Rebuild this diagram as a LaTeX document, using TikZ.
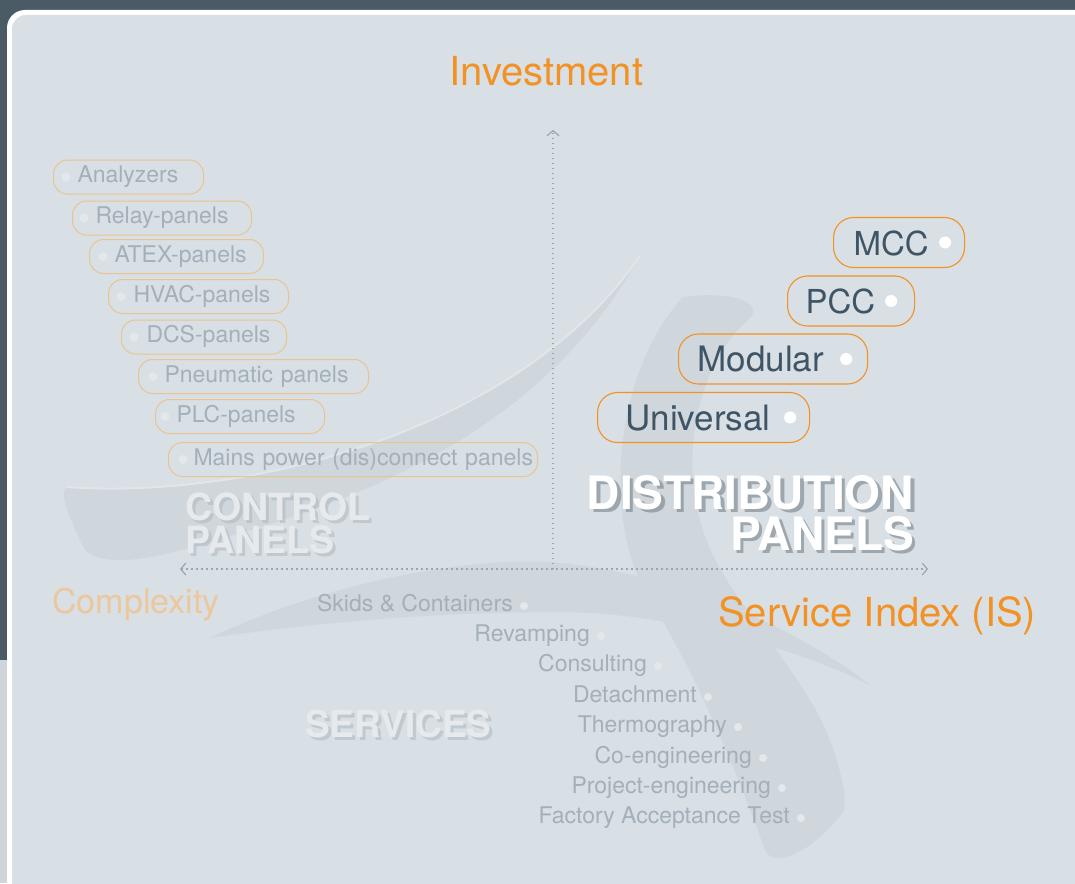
\documentclass[tikz,border=0pt]{standalone}
\usepackage{fontspec}
\setmainfont{TeX Gyre Heros}
\usepackage{tikz}
\usetikzlibrary{arrows.meta,positioning,calc}
\definecolor{slate}{HTML}{4A5B66}
\definecolor{panel}{HTML}{D8DFE5}
\definecolor{swirl}{HTML}{CFD6DC}
\definecolor{swirlline}{HTML}{E0E6EA}
\definecolor{edgegrey}{HTML}{CFD6DB}
\definecolor{orange}{HTML}{F39224}
\definecolor{paleorange}{HTML}{EAC490}
\definecolor{palelabel}{HTML}{ECC79C}
\definecolor{itemgrey}{HTML}{A4B0B9}
\definecolor{dotgrey}{HTML}{E3E8EC}
\definecolor{darktext}{HTML}{3F5565}
\definecolor{axisgrey}{HTML}{9AA6AF}
\definecolor{titlegrey}{HTML}{E6EAED}
\definecolor{shadowgrey}{HTML}{B2BBC2}
\definecolor{darkshadow}{HTML}{6F7A82}
\tikzset{
    lbox/.style ={draw=paleorange, line width=1pt, rounded corners=14pt, minimum height=34pt,
        inner xsep=0pt, inner ysep=0pt, anchor=west, align=left, text=itemgrey,
        font=\fontsize{23}{26}\selectfont, text height=16.5pt, text depth=5pt, text width=#1},
    rbox/.style ={draw=orange, line width=1.1pt, rounded corners=20pt, minimum height=50pt,
        inner xsep=0pt, inner ysep=0pt, anchor=west, align=left, text=darktext,
        font=\fontsize{35}{40}\selectfont, text height=25pt, text depth=0pt, text width=#1},
    sitem/.style ={anchor=east, inner sep=0pt, text=itemgrey,
        font=\fontsize{23}{26}\selectfont, text height=16.5pt, text depth=5pt},
    ldot/.style = {fill=dotgrey},
    rdot/.style = {fill=white},
    axis/.style = {draw=axisgrey, line width=1.3pt, dash pattern=on 1.3pt off 3.7pt},
    chev/.tip = {Straight Barb[length=5pt, width=12pt, line width=1.2pt]},
    axislabel/.style = {inner sep=0pt, text=orange, font=\fontsize{40}{44}\selectfont},
    title/.style = {inner sep=0pt, font=\fontsize{37.5}{33}\selectfont\bfseries},
    bigtitle/.style = {inner sep=0pt, anchor=base east, align=right, font=\fontsize{46}{41}\selectfont\bfseries}
}

\begin{document}
\begin{tikzpicture}[x=1pt, y=-1pt]
    \useasboundingbox (0,0) rectangle (1075,883);

    % Background and panel
    \fill[slate] (0,0) rectangle (1075,883);
    \fill[edgegrey] (0,660) rectangle (8,883);
    \fill[white, rounded corners=18pt] (7,10) rectangle (1100,910);
    \fill[panel, rounded corners=14pt] (12,15) rectangle (1100,910);

    % Swirls
    \fill[swirl] (67,487) .. controls (250,500) and (520,430) .. (640,256)
        .. controls (560,400) and (420,480) .. (250,530)
        .. controls (170,555) and (110,572) .. (85,550)
        .. controls (70,520) and (58,492) .. (67,487) -- cycle;
    \draw[swirlline, line width=2pt] (67,487) .. controls (250,500) and (520,430) .. (640,256);
    \fill[swirl] (683,297) .. controls (615,370) and (600,520) .. (650,600)
        .. controls (700,680) and (740,780) .. (765,850)
        .. controls (772,866) and (805,860) .. (843,812)
        .. controls (850,800) and (835,740) .. (810,700)
        .. controls (760,620) and (715,580) .. (700,520)
        .. controls (680,450) and (700,360) .. (750,318)
        .. controls (762,305) and (740,290) .. (683,297) -- cycle;
    \fill[swirl] (210,638) .. controls (330,580) and (480,555) .. (560,563)
        .. controls (680,575) and (800,630) .. (870,685)
        .. controls (780,640) and (650,612) .. (560,612)
        .. controls (420,612) and (300,625) .. (210,638) -- cycle;

    % Axes
    \coordinate (origin) at (553,569);
    \coordinate (ytip) at (553,130);
    \coordinate (xleft) at (180,569);
    \coordinate (xright) at (928,569);
    \draw[axis, -chev] (origin) -- (ytip);
    \draw[axis, chev-chev] (xleft) -- (xright);

    \node[axislabel, anchor=base west] (invest) at (449,85) {Investment};
    \node[axislabel, anchor=base west, text=palelabel, font=\fontsize{34}{40}\selectfont] (cplx) at (52,613) {Complexity};
    \node[axislabel, anchor=base west] (sindex) at (718,626) {Service Index (IS)};

    % Control panels
    \node[lbox=150pt] (analyzers) at (53,177) {\hspace*{24pt}Analyzers};
    \node[lbox=179pt] (relay) at (72,218) {\hspace*{23pt}Relay-panels};
    \node[lbox=174pt] (atex) at (89,256.5) {\hspace*{25pt}ATEX-panels};
    \node[lbox=180pt] (hvac) at (108,296.5) {\hspace*{25pt}HVAC-panels};
    \node[lbox=165pt] (dcs) at (121,337) {\hspace*{25pt}DCS-panels};
    \node[lbox=230pt] (pneu) at (138,376.5) {\hspace*{26pt}Pneumatic panels};
    \node[lbox=169pt] (plc) at (155,416.5) {\hspace*{21pt}PLC-panels};
    \node[lbox=369pt] (mains) at (168,459.5) {\hspace*{25pt}Mains power (dis)connect panels};
    \fill[ldot] ([xshift=13pt]analyzers.west) circle (4.5pt);
    \fill[ldot] ([xshift=12pt]relay.west) circle (4.5pt);
    \fill[ldot] ([xshift=14pt]atex.west) circle (4.5pt);
    \fill[ldot] ([xshift=13pt]hvac.west) circle (4.5pt);
    \fill[ldot] ([xshift=13pt]dcs.west) circle (4.5pt);
    \fill[ldot] ([xshift=15pt]pneu.west) circle (4.5pt);
    \fill[ldot] ([xshift=10pt]plc.west) circle (4.5pt);
    \fill[ldot] ([xshift=15pt]mains.west) circle (4.5pt);

    \node[title, text=shadowgrey, opacity=.6, anchor=base west, align=left] (ctrlsh) at (188,556) {CONTROL\\PANELS};
    \node[title, text=titlegrey, anchor=base west, align=left] (ctrl) at (185,553) {CONTROL\\PANELS};

    % Distribution panels
    \node[rbox=131pt, font=\fontsize{33}{40}\selectfont] (mcc) at (833,242.5) {\hspace*{20pt}MCC};
    \node[rbox=127pt, font=\fontsize{33}{40}\selectfont] (pcc) at (787,301) {\hspace*{18pt}PCC};
    \node[rbox=189pt] (modular) at (678,359) {\hspace*{19pt}Modular};
    \node[rbox=212pt] (universal) at (597,417.5) {\hspace*{28pt}Universal};
    \fill[rdot] ([xshift=-20pt]mcc.east) circle (6pt);
    \fill[rdot] ([xshift=-24pt]pcc.east) circle (6pt);
    \fill[rdot] ([xshift=-22pt]modular.east) circle (6pt);
    \fill[rdot] ([xshift=-20pt]universal.east) circle (6pt);

    \node[bigtitle, text=darkshadow, opacity=.55] (distsh) at (917.5,553.5) {DISTRIBUTION\\PANELS};
    \node[bigtitle, text=white] (dist) at (914,550) {DISTRIBUTION\\PANELS};

    % Services
    \node[sitem] (skids) at (513,606) {Skids \& Containers};
    \node[sitem] (revamp) at (590,636) {Revamping};
    \node[sitem] (consult) at (647,666) {Consulting};
    \node[sitem] (detach) at (697,697) {Detachment};
    \node[sitem] (thermo) at (727,727) {Thermography};
    \node[sitem] (coeng) at (752,758) {Co-engineering};
    \node[sitem] (projeng) at (771,788) {Project-engineering};
    \node[sitem] (fat) at (790,818) {Factory Acceptance Test};
    \fill[ldot] ([xshift=11pt]skids.east) circle (4pt);
    \fill[ldot] ([xshift=11pt]revamp.east) circle (4pt);
    \fill[ldot] ([xshift=11pt]consult.east) circle (4pt);
    \fill[ldot] ([xshift=11pt]detach.east) circle (4pt);
    \fill[ldot] ([xshift=11pt]thermo.east) circle (4pt);
    \fill[ldot] ([xshift=11pt]coeng.east) circle (4pt);
    \fill[ldot] ([xshift=11pt]projeng.east) circle (4pt);
    \fill[ldot] ([xshift=11pt]fat.east) circle (4pt);

    \node[title, text=shadowgrey, opacity=.6, anchor=base west, font=\fontsize{37}{40}\selectfont\bfseries] (servsh) at (308,740) {SERVICES};
    \node[title, text=titlegrey, anchor=base west, font=\fontsize{37}{40}\selectfont\bfseries] (serv) at (305,737) {SERVICES};

\end{tikzpicture}
\end{document}
